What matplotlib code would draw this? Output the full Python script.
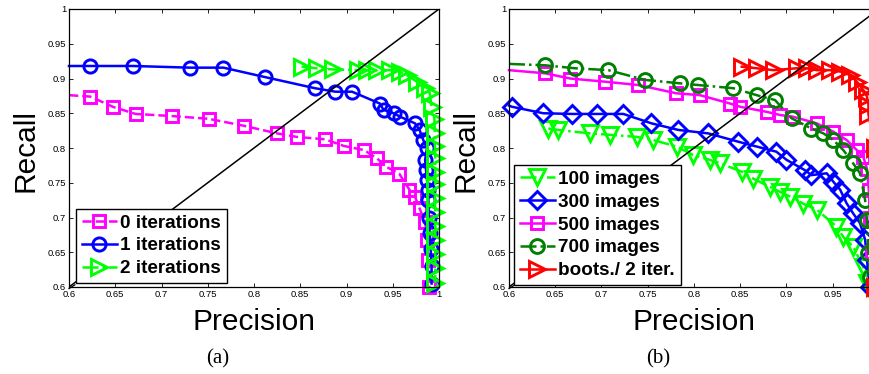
import numpy as np
import matplotlib
matplotlib.use("Agg")
import matplotlib.pyplot as plt
from matplotlib.ticker import FormatStrFormatter

# panel (a): number of iterations
a0_prec = [0.6, 0.623, 0.648, 0.672, 0.711, 0.751, 0.789, 0.825, 0.846, 0.877, 0.897,
           0.919, 0.933, 0.943, 0.957, 0.968, 0.974, 0.979, 0.985, 0.987, 0.9885, 0.9895]
a0_rec = [0.876, 0.874, 0.859, 0.849, 0.846, 0.842, 0.832, 0.821, 0.816, 0.8125, 0.803,
          0.797, 0.785, 0.773, 0.763, 0.740, 0.730, 0.713, 0.694, 0.668, 0.639, 0.600]

a1_prec = [0.6, 0.623, 0.669, 0.731, 0.767, 0.812, 0.866, 0.888, 0.906, 0.936, 0.940,
           0.951, 0.958, 0.974, 0.979, 0.983, 0.987, 0.985, 0.986, 0.987, 0.988, 0.9885,
           0.989, 0.990, 0.991, 0.992, 0.992]
a1_rec = [0.918, 0.918, 0.918, 0.9156, 0.9156, 0.902, 0.886, 0.881, 0.881, 0.864, 0.855,
          0.850, 0.845, 0.8355, 0.826, 0.8115, 0.80, 0.783, 0.768, 0.754, 0.740, 0.725,
          0.700, 0.678, 0.655, 0.630, 0.605]

a2_prec = [0.8515, 0.8677, 0.8857, 0.9128, 0.922, 0.9326, 0.947, 0.958, 0.965, 0.976,
           0.985, 0.990, 0.992, 0.995, 0.9955, 0.9955, 0.996, 0.996, 0.996, 0.9955, 0.996,
           0.996, 0.996, 0.996, 0.996, 0.996]
a2_rec = [0.917, 0.9147, 0.913, 0.912, 0.912, 0.912, 0.912, 0.910, 0.905, 0.8955,
          0.886, 0.879, 0.859, 0.842, 0.822, 0.803, 0.785, 0.766, 0.748, 0.728, 0.708,
          0.688, 0.668, 0.648, 0.627, 0.606]

# panel (b): training set size
b100_prec = [0.6425, 0.653, 0.6876, 0.709, 0.738, 0.756, 0.7813, 0.799, 0.817, 0.828,
             0.8516, 0.864, 0.882, 0.893, 0.904, 0.918, 0.933, 0.954, 0.9615, 0.972,
             0.983, 0.9867, 0.992]
b100_rec = [0.828, 0.826, 0.821, 0.819, 0.816, 0.8115, 0.802, 0.790, 0.783, 0.778,
            0.766, 0.756, 0.744, 0.737, 0.730, 0.720, 0.711, 0.687, 0.672, 0.658,
            0.629, 0.606, 0.590]

b300_prec = [0.6, 0.603, 0.637, 0.668, 0.695, 0.7236, 0.754, 0.783, 0.8155, 0.848, 0.868,
             0.889, 0.900, 0.920, 0.927, 0.9435, 0.9506, 0.958, 0.965, 0.972, 0.9795,
             0.985, 0.987, 0.990]
b300_rec = [0.861, 0.8594, 0.850, 0.849, 0.849, 0.849, 0.8355, 0.826, 0.821, 0.809, 0.802,
            0.7947, 0.783, 0.768, 0.761, 0.7636, 0.7515, 0.740, 0.7204, 0.706, 0.6917,
            0.668, 0.639, 0.600]

b500_prec = [0.6, 0.639, 0.666, 0.7038, 0.7398, 0.781, 0.8065, 0.839, 0.8497, 0.8786,
             0.893, 0.907, 0.9326, 0.9506, 0.965, 0.976, 0.983, 0.987, 0.989, 0.990,
             0.992, 0.995]
b500_rec = [0.912, 0.9075, 0.900, 0.8954, 0.8906, 0.8787, 0.876, 0.864, 0.8594, 0.852,
            0.8475, 0.845, 0.8355, 0.8235, 0.8115, 0.797, 0.7875, 0.770, 0.740, 0.700,
            0.650, 0.600]

b700_prec = [0.6, 0.639, 0.6714, 0.7074, 0.747, 0.785, 0.8047, 0.8425, 0.8678, 0.8876,
             0.9056, 0.927, 0.940, 0.9506, 0.9614, 0.972, 0.9795, 0.985, 0.987, 0.9886,
             0.990]
b700_rec = [0.921, 0.919, 0.9147, 0.912, 0.898, 0.893, 0.8906, 0.886, 0.876, 0.869,
            0.8427, 0.828, 0.821, 0.8115, 0.797, 0.778, 0.7636, 0.725, 0.696, 0.649,
            0.615]

bboot_prec = [0.8516, 0.868, 0.886, 0.911, 0.922, 0.9326, 0.947, 0.958, 0.9686, 0.976,
              0.983, 0.987, 0.9886, 0.9886, 0.996, 0.996]
bboot_rec = [0.917, 0.9147, 0.912, 0.9147, 0.9147, 0.912, 0.912, 0.910, 0.905, 0.8955,
             0.8835, 0.874, 0.862, 0.848, 0.80, 0.60]

ticks = [0.6, 0.65, 0.7, 0.75, 0.8, 0.85, 0.9, 0.95, 1.0]

W, H = 870, 374
fig = plt.figure(figsize=(W / 100, H / 100), dpi=100)
fig.patch.set_facecolor("white")

ax_pos = {"a": 69, "b": 509}
ax_w, ax_h, ax_bot = 370, 278, 87

LW = 1.8
MEW = 2.1


def setup_axes(left, xticks):
    ax = fig.add_axes([left / W, ax_bot / H, ax_w / W, ax_h / H])
    ax.set_xlim(0.6, 1.0)
    ax.set_ylim(0.6, 1.0)
    ax.set_xticks(xticks)
    ax.set_yticks(ticks)
    ax.xaxis.set_major_formatter(FormatStrFormatter("%g"))
    ax.yaxis.set_major_formatter(FormatStrFormatter("%g"))
    ax.tick_params(direction="in", length=3, width=0.6, top=True, right=True,
                   labelsize=6.8, pad=2)
    for lab in ax.get_xticklabels() + ax.get_yticklabels():
        lab.set_family("Liberation Sans")
    for s in ax.spines.values():
        s.set_linewidth(0.9)
    # little 3-D corner like the matlab box
    ax.plot([0, 0.016], [-0.006, 0.008], color="black", lw=0.9,
            transform=ax.transAxes, clip_on=False)
    ax.plot([0.6, 1.0], [0.6, 1.0], color="black", lw=1.1, zorder=3)
    return ax


def series(ax, x, y, color, ls, marker, ms, label, skip_first=False):
    me = slice(1, None) if skip_first else None
    ax.plot(x, y, color=color, ls=ls, lw=LW, marker=marker, ms=ms, mew=MEW,
            mfc="none", mec=color, markevery=me, label=label, clip_on=False)


magenta = (1, 0, 1)
blue = (0, 0, 1)
lime = (0, 1, 0)
dgreen = (0, 0.5, 0)
red = (1, 0, 0)

leg_kw = dict(prop={"family": "Liberation Sans", "weight": "bold", "size": 13.6},
              frameon=True, fancybox=False, edgecolor="black", framealpha=1,
              handlelength=1.85, handletextpad=0.2, borderpad=0.3,
              labelspacing=0.3, borderaxespad=0, loc="lower left")

# ---- panel (a)
ax1 = setup_axes(ax_pos["a"], ticks)
series(ax1, a0_prec, a0_rec, magenta, "--", "s", 9, "0 iterations", True)
series(ax1, a1_prec, a1_rec, blue, "-", "o", 9.5, "1 iterations", True)
series(ax1, a2_prec, a2_rec, lime, "-.", ">", 12, "2 iterations")

leg = ax1.legend(bbox_to_anchor=((76 - 69) / ax_w, (287 - 283) / ax_h), **leg_kw)
leg.get_frame().set_linewidth(1.0)

# ---- panel (b), its right end falls outside the page
ax2 = setup_axes(ax_pos["b"], ticks[:-1])
series(ax2, b100_prec, b100_rec, lime, "-.", "v", 12, "100 images")
series(ax2, b300_prec, b300_rec, blue, "-", "D", 9, "300 images", True)
series(ax2, b500_prec, b500_rec, magenta, "-", "s", 9, "500 images", True)
series(ax2, b700_prec, b700_rec, dgreen, "-.", "o", 10, "700 images", True)
series(ax2, bboot_prec, bboot_rec, red, "-", ">", 12, "boots./ 2 iter.")

leg = ax2.legend(bbox_to_anchor=((514 - 509) / ax_w, (287 - 285) / ax_h), **leg_kw)
leg.get_frame().set_linewidth(1.0)

# ---- axis labels and panel captions
lab_font = dict(family="Liberation Sans", size=21.5)
for name, left in ax_pos.items():
    cx = left + ax_w / 2
    fig.text((left - 43) / W, 1 - 150 / H, "Recall", rotation=90,
             ha="center", va="center", **lab_font)
    fig.text(cx / W, 1 - 322 / H, "Precision", ha="center", va="center", **lab_font)
    fig.text((cx - 36) / W, 1 - 359 / H, "(%s)" % name, ha="center", va="center",
             family="Liberation Serif", size=15)

fig.savefig("out.png", dpi=100)
